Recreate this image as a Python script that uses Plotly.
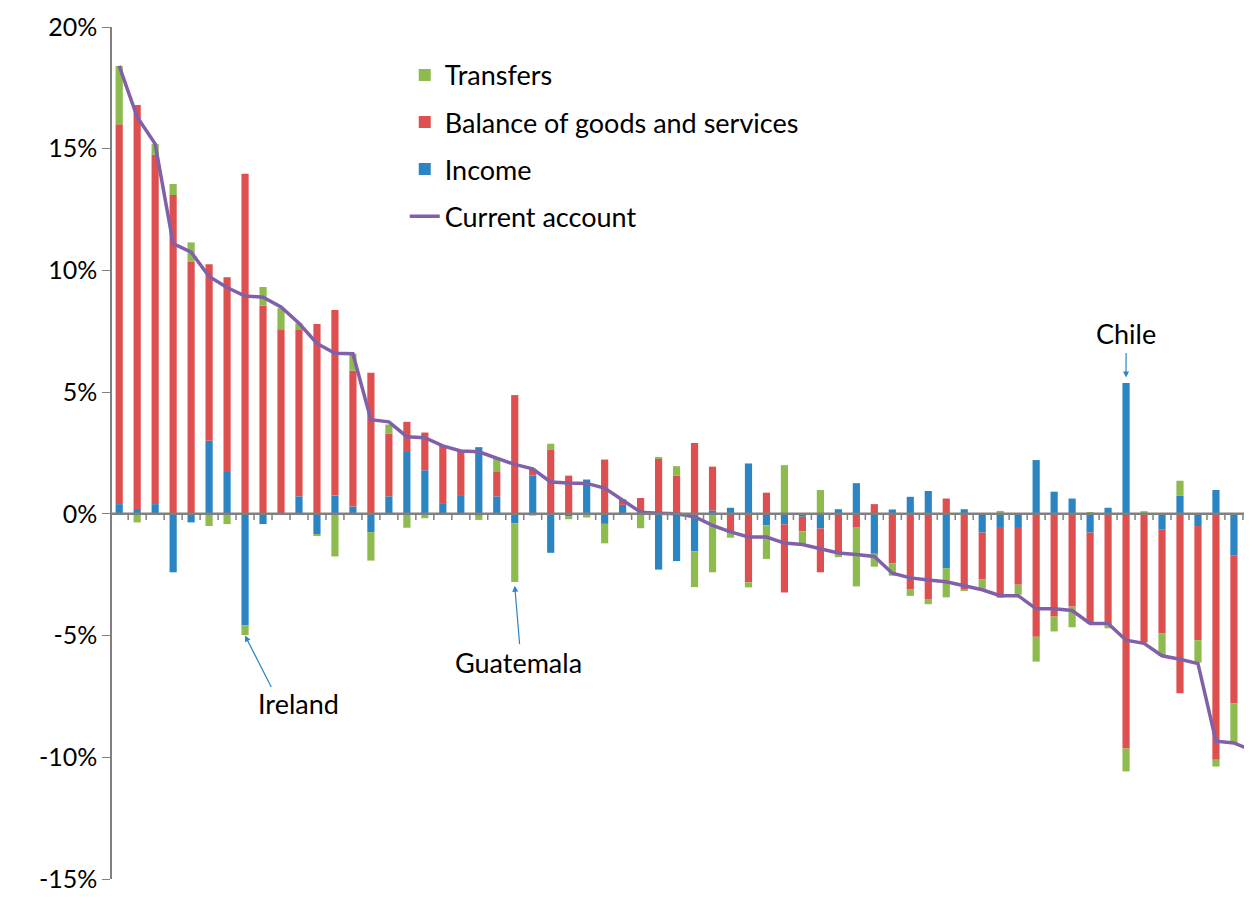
import plotly.graph_objects as go

idx = list(range(1, 65))
income = [0.4,0.2,0.4,-2.4,-0.35,3.0,1.72,-4.58,-0.42,0.0,0.72,-0.83,0.75,0.3,-0.75,0.72,
          2.54,1.79,0.44,0.77,2.74,0.72,-0.39,1.57,-1.6,-0.11,1.41,-0.41,0.37,0.0,-2.29,-1.94,
          -1.54,0.14,0.25,2.07,-0.47,-0.43,-0.12,-0.6,0.19,1.26,-1.64,0.18,0.7,0.94,-2.23,0.19,
          -0.77,-0.54,-0.54,2.21,0.91,0.63,-0.77,0.25,5.38,0.0,-0.65,0.74,-0.5,0.98,-1.72,-0.72]
balance = [15.6,16.6,14.35,13.1,10.35,7.25,8.0,13.97,8.55,7.58,6.86,7.8,7.62,5.58,5.8,2.58,
           1.24,1.55,2.35,1.81,-0.08,1.03,4.88,0.28,2.65,1.57,-0.05,2.23,0.23,0.65,2.28,1.57,
           2.91,1.8,-0.79,-2.81,0.87,-2.8,-0.6,-1.8,-1.64,-0.54,0.4,-2.03,-3.09,-3.5,0.63,-3.09,
           -1.93,-2.9,-2.37,-5.05,-4.22,-3.81,-3.73,-4.59,-9.64,-5.28,-4.25,-7.37,-4.69,-10.1,-6.07,-9.69]
transfers = [2.4,-0.35,0.45,0.45,0.8,-0.5,-0.42,-0.4,0.77,0.87,0.25,-0.05,-1.75,0.7,-1.17,0.37,
             -0.57,-0.18,0.0,0.0,-0.17,0.55,-2.41,-0.07,0.23,-0.11,-0.1,-0.8,-0.04,-0.59,0.03,0.39,
             -1.47,-2.4,-0.19,-0.21,-1.38,2.0,-0.55,0.98,-0.14,-2.44,-0.53,-0.51,-0.28,-0.21,-1.2,-0.07,
             -0.38,0.12,-0.41,-1.02,-0.61,-0.85,0.07,-0.11,-0.94,0.11,-0.94,0.62,-0.92,-0.28,-1.62,0.7]
current = [18.4,16.3,15.2,11.1,10.75,9.75,9.3,8.95,8.9,8.5,7.83,7.0,6.6,6.58,3.87,3.78,
           3.17,3.13,2.79,2.58,2.55,2.3,2.03,1.85,1.31,1.27,1.25,1.06,0.58,0.07,0.03,0.0,
           -0.12,-0.47,-0.74,-0.95,-0.95,-1.2,-1.26,-1.43,-1.61,-1.67,-1.75,-2.44,-2.63,-2.72,-2.79,-2.95,
           -3.12,-3.36,-3.36,-3.9,-3.9,-3.97,-4.5,-4.5,-5.19,-5.32,-5.83,-5.97,-6.15,-9.34,-9.41,-9.72]
ytick_vals = [-15,-10,-5,0,5,10,15,20]
ytick_text = ["-15%","-10%","-5%","0%","5%","10%","15%","20%"]

font = "Lato"
fig = go.Figure()
fig.add_bar(x=idx, y=income, name="Income", legendgroup="c", marker=dict(color="#2A85C2", line=dict(width=0)), legendrank=3)
fig.add_bar(x=idx, y=balance, name="Balance of goods and services", legendgroup="b", marker=dict(color="#DE5050", line=dict(width=0)), legendrank=2)
fig.add_bar(x=idx, y=transfers, name="Transfers", legendgroup="a", marker=dict(color="#8DBB4E", line=dict(width=0)), legendrank=1)
fig.add_scatter(x=idx, y=current, name="Current account", legendgroup="d", mode="lines",
                line=dict(color="#8060A8", width=3.5), legendrank=4)

shapes = [dict(type="line", xref="paper", yref="y", x0=0, x1=1, y0=0, y1=0,
               line=dict(color="#808080", width=2.5), layer="above")]
for i in idx[:-1]:
    shapes.append(dict(type="line", xref="x", yref="y", x0=i+0.5, x1=i+0.5, y0=0, y1=-0.25,
                       line=dict(color="#808080", width=1.5)))

ann = [
    dict(x=8, y=-5.0, ax=27, ay=53, text="", showarrow=True, arrowhead=2, arrowcolor="#2A85C2",
         arrowwidth=1.2),
    dict(x=8.6, y=-7.8, text="Ireland", showarrow=False, xanchor="left", font=dict(size=27, family=font, color="#000")),
    dict(x=23, y=-2.95, ax=5, ay=60, text="", showarrow=True, arrowhead=2, arrowcolor="#2A85C2", arrowwidth=1.2),
    dict(x=23.2, y=-6.1, text="Guatemala", showarrow=False, font=dict(size=27, family=font, color="#000")),
    dict(x=57, y=5.6, ax=0, ay=-26, text="", showarrow=True, arrowhead=2, arrowcolor="#2A85C2", arrowwidth=1.2),
    dict(x=57, y=7.4, text="Chile", showarrow=False, font=dict(size=27, family=font, color="#000")),
]

fig.update_layout(
    width=1252, height=905, barmode="relative", bargap=0.6,
    plot_bgcolor="white", paper_bgcolor="white",
    margin=dict(l=104, r=0, t=19, b=34),
    font=dict(family=font, size=25, color="#000"),
    showlegend=True,
    legend=dict(x=0.255, y=0.972, xanchor="left", yanchor="top", bgcolor="rgba(0,0,0,0)",
                font=dict(size=27, family=font), tracegroupgap=9, itemwidth=30),
    xaxis=dict(range=[0.6, 64.45], showticklabels=False, showgrid=False, zeroline=False, ticks=""),
    yaxis=dict(range=[-15, 20], tickvals=ytick_vals, ticktext=ytick_text, showgrid=False,
               zeroline=False, showline=True, linecolor="#808080", linewidth=1.5,
               ticks="outside", ticklen=8, tickcolor="#808080", tickfont=dict(size=25, family=font)),
    shapes=shapes, annotations=ann,
)
fig.write_html("out.html")
